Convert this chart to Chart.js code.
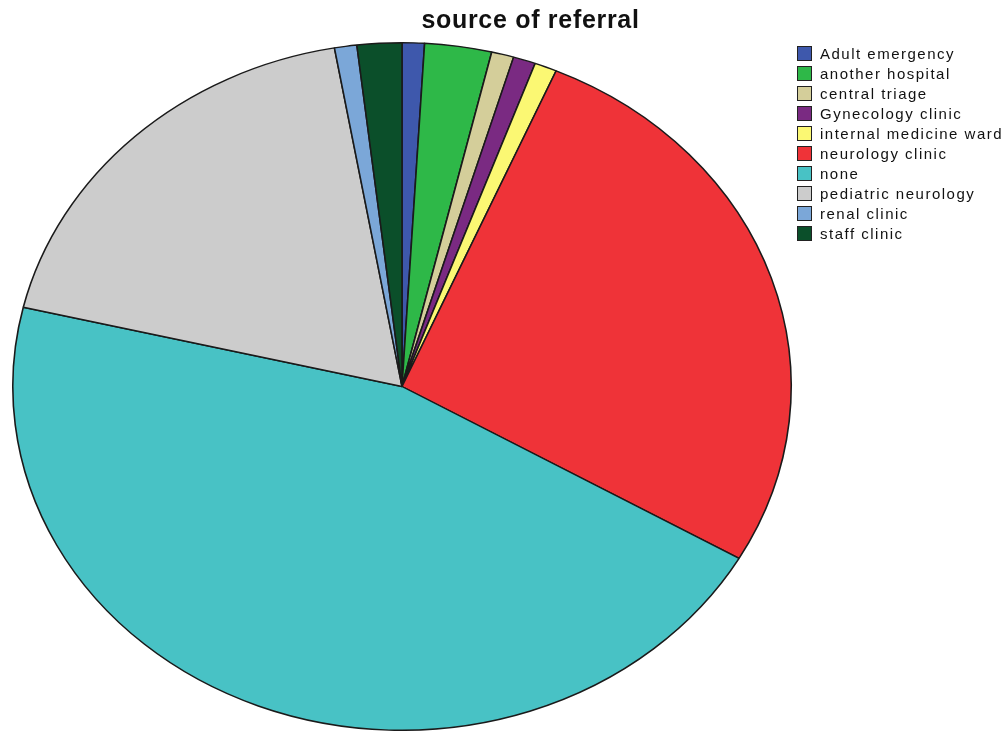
<!DOCTYPE html>
<html>
<head>
<meta charset="utf-8">
<script src="https://cdn.jsdelivr.net/npm/chart.js@4.4.1/dist/chart.umd.min.js"></script>
<style>
  html, body { margin: 0; padding: 0; background: #fff; }
  #wrap { position: relative; width: 1005px; height: 731px; overflow: hidden; }
  #pie { position: absolute; left: 0; top: 0; }
  #title {
    position: absolute; left: 0; width: 1061px; top: 5px; text-align: center;
    font: bold 25px "Liberation Sans", Arial, sans-serif; letter-spacing: 0.7px; color: #111;
  }
  #legend { position: absolute; left: 797px; top: 43px; font: 15px "Liberation Sans", Arial, sans-serif; letter-spacing: 1.5px; color: #111; }
  .row { height: 20px; display: flex; align-items: center; white-space: nowrap; }
  .box { width: 15px; height: 15px; border: 1px solid #222; margin-right: 8px; box-sizing: border-box; }
</style>
</head>
<body>
<div id="wrap">
  <canvas id="pie" width="1005" height="731"></canvas>
  <div id="title">source of referral</div>
  <div id="legend"></div>
</div>
<script>
// данные: число пациентов по источнику направления
var labels = ['Adult emergency', 'another hospital', 'central triage', 'Gynecology clinic', 'internal medicine ward',
              'neurology clinic', 'none', 'pediatric neurology', 'renal clinic', 'staff clinic'];
var counts = [1, 3, 1, 1, 1, 29, 49, 20, 1, 2];
var colors = ['#3e58ac', '#2eb848', '#d4ce9a', '#7a2a82', '#fbf873',
              '#ef3338', '#48c2c5', '#cccccc', '#7ba7d8', '#0b4f2a'];

// вытягиваем круг в эллипс по горизонтали
var stretchX = 390 / 344.5;
var ellipsePlugin = {
    id: 'ellipse',
    beforeDatasetsDraw: function (chart) {
        var arc = chart.getDatasetMeta(0).data[0];
        var ctx = chart.ctx;
        ctx.save();
        ctx.translate(arc.x, arc.y);
        ctx.scale(stretchX, 1);
        ctx.translate(-arc.x, -arc.y);
    },
    afterDatasetsDraw: function (chart) {
        chart.ctx.restore();
    }
};

var ctx = document.getElementById('pie').getContext('2d');
var pieChart = new Chart(ctx, {
    type: 'pie',
    data: {
        labels: labels,
        datasets: [{
            data: counts,
            backgroundColor: colors,
            borderColor: '#1a1a1a',
            borderWidth: 1.4
        }]
    },
    options: {
        responsive: false,
        animation: false,
        layout: { padding: { left: 57, right: 258, top: 42, bottom: 0 } },
        plugins: {
            legend: { display: false },
            title: { display: false },
            tooltip: { enabled: false }
        }
    },
    plugins: [ellipsePlugin]
});

// легенда
var legend = document.getElementById('legend');
labels.forEach(function (name, i) {
    var row = document.createElement('div');
    row.className = 'row';
    var box = document.createElement('span');
    box.className = 'box';
    box.style.background = colors[i];
    var txt = document.createElement('span');
    txt.textContent = name;
    row.appendChild(box);
    row.appendChild(txt);
    legend.appendChild(row);
});
</script>
</body>
</html>
